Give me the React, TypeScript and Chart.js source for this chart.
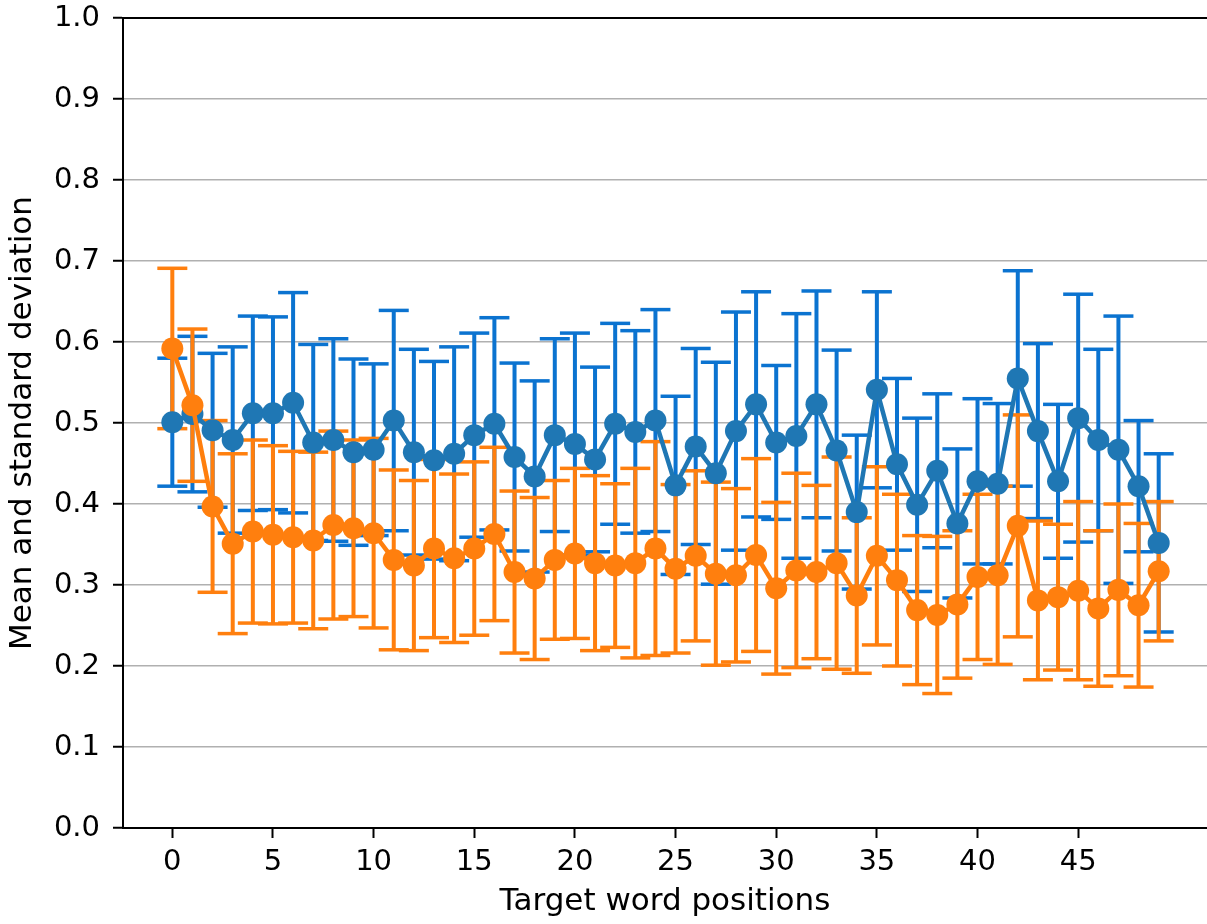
import React, { useEffect, useRef } from "react";
import { Chart, registerables } from "chart.js";

Chart.register(...registerables);

// ---- data ----
const positions = [
  0, 1, 2, 3, 4, 5, 6, 7, 8, 9,
  10, 11, 12, 13, 14, 15, 16, 17, 18, 19,
  20, 21, 22, 23, 24, 25, 26, 27, 28, 29,
  30, 31, 32, 33, 34, 35, 36, 37, 38, 39,
  40, 41, 42, 43, 44, 45, 46, 47, 48, 49,
];

const xTickValues = [0, 5, 10, 15, 20, 25, 30, 35, 40, 45];
const yTickValues = [0.0, 0.1, 0.2, 0.3, 0.4, 0.5, 0.6, 0.7, 0.8, 0.9, 1.0];

const blueMean = [
  0.501, 0.511, 0.491, 0.479, 0.512, 0.512, 0.525, 0.476, 0.479, 0.464,
  0.467, 0.503, 0.464, 0.454, 0.462, 0.485, 0.499, 0.458, 0.434, 0.485,
  0.474, 0.455, 0.499, 0.489, 0.503, 0.423, 0.471, 0.438, 0.490, 0.523,
  0.476, 0.484, 0.523, 0.466, 0.390, 0.541, 0.449, 0.399, 0.441, 0.376,
  0.428, 0.425, 0.555, 0.490, 0.428, 0.506, 0.479, 0.467, 0.422, 0.352,
];

const blueStd = [
  0.079, 0.096, 0.095, 0.115, 0.120, 0.119, 0.136, 0.121, 0.125, 0.115,
  0.106, 0.136, 0.127, 0.122, 0.132, 0.126, 0.131, 0.116, 0.118, 0.119,
  0.137, 0.114, 0.124, 0.125, 0.137, 0.110, 0.121, 0.137, 0.147, 0.139,
  0.095, 0.151, 0.140, 0.124, 0.095, 0.121, 0.106, 0.107, 0.095, 0.092,
  0.102, 0.099, 0.133, 0.108, 0.095, 0.153, 0.112, 0.165, 0.081, 0.110,
];

const orangeMean = [
  0.592, 0.522, 0.397, 0.351, 0.366, 0.362, 0.359, 0.355, 0.374, 0.370,
  0.364, 0.331, 0.324, 0.345, 0.333, 0.345, 0.363, 0.316, 0.308, 0.331,
  0.339, 0.327, 0.324, 0.327, 0.345, 0.320, 0.336, 0.314, 0.312, 0.337,
  0.296, 0.318, 0.316, 0.327, 0.287, 0.336, 0.306, 0.269, 0.263, 0.276,
  0.310, 0.312, 0.373, 0.281, 0.285, 0.293, 0.271, 0.294, 0.275, 0.317,
];

const orangeStd = [
  0.099, 0.094, 0.106, 0.111, 0.113, 0.110, 0.106, 0.109, 0.116, 0.109,
  0.117, 0.111, 0.105, 0.110, 0.104, 0.107, 0.107, 0.100, 0.100, 0.098,
  0.105, 0.108, 0.101, 0.117, 0.132, 0.104, 0.105, 0.113, 0.107, 0.119,
  0.106, 0.120, 0.107, 0.131, 0.096, 0.110, 0.106, 0.092, 0.097, 0.091,
  0.102, 0.110, 0.137, 0.098, 0.090, 0.110, 0.096, 0.106, 0.101, 0.086,
];

const xLabel = "Target word positions";
const yLabel = "Mean and standard deviation";

// ---- styles ----
const BLUE = "#1f77b4";
const BLUE_ERR = "#0b73d0";
const ORANGE = "#ff7f0e";
const FONT = "'DejaVu Sans', sans-serif";

function meanPoints(mean: number[]) {
  return positions.map((x, i) => ({ x, y: mean[i] }));
}
function barPoints(mean: number[], std: number[]) {
  return positions.flatMap((x, i) => [
    { x, y: mean[i] - std[i] },
    { x, y: mean[i] + std[i] },
    { x, y: null as any },
  ]);
}
function capPoints(mean: number[], std: number[]) {
  return positions.flatMap((x, i) => [
    { x, y: mean[i] - std[i] },
    { x, y: mean[i] + std[i] },
  ]);
}

const topSpine = {
  id: "topSpine",
  afterDatasetsDraw(chart: any) {
    const { ctx, chartArea } = chart;
    ctx.save();
    ctx.strokeStyle = "#000";
    ctx.lineWidth = 2;
    ctx.beginPath();
    ctx.moveTo(chartArea.left - 1, chartArea.top);
    ctx.lineTo(chartArea.right, chartArea.top);
    ctx.stroke();
    ctx.restore();
  },
};

function zeroPadding(scale: any) {
  scale.paddingTop = 0;
  scale.paddingBottom = 0;
  scale.paddingLeft = 0;
  scale.paddingRight = 0;
}

export default function App() {
  const canvasRef = useRef<HTMLCanvasElement | null>(null);

  useEffect(() => {
    if (!canvasRef.current) return;
    const lineDs = (label: string, mean: number[], color: string, order: number) => ({
      label,
      data: meanPoints(mean),
      borderColor: color,
      backgroundColor: color,
      borderWidth: 4.5,
      pointRadius: 11,
      pointBorderWidth: 0,
      pointBackgroundColor: color,
      tension: 0,
      order,
    });
    const barDs = (mean: number[], std: number[], color: string, order: number) => ({
      label: "bars",
      data: barPoints(mean, std),
      borderColor: color,
      borderWidth: 4,
      pointRadius: 0,
      spanGaps: false,
      tension: 0,
      order,
    });
    const capDs = (mean: number[], std: number[], color: string, order: number) => ({
      label: "caps",
      data: capPoints(mean, std),
      showLine: false,
      pointStyle: "line",
      pointRadius: 15,
      pointBorderWidth: 3.5,
      pointBorderColor: color,
      pointBackgroundColor: color,
      borderColor: color,
      order,
    });

    const chart = new Chart(canvasRef.current, {
      type: "line",
      data: {
        datasets: [
          lineDs("orange", orangeMean, ORANGE, 0),
          lineDs("blue", blueMean, BLUE, 1),
          capDs(orangeMean, orangeStd, ORANGE, 2),
          barDs(orangeMean, orangeStd, ORANGE, 3),
          capDs(blueMean, blueStd, BLUE_ERR, 4),
          barDs(blueMean, blueStd, BLUE_ERR, 5),
        ] as any,
      },
      options: {
        animation: false,
        responsive: false,
        devicePixelRatio: 1,
        layout: { autoPadding: false, padding: { top: 18, left: 0, right: 0, bottom: 0 } },
        plugins: {
          legend: { display: false },
          tooltip: { enabled: false },
        },
        scales: {
          x: {
            type: "linear",
            min: -2.45,
            max: 51.4,
            offset: false,
            afterBuildTicks: (scale: any) => {
              scale.ticks = xTickValues.map((v) => ({ value: v }));
            },
            afterFit: (scale: any) => {
              scale.height = 96;
              zeroPadding(scale);
            },
            ticks: {
              autoSkip: false,
              maxRotation: 0,
              padding: 7,
              color: "#000",
              font: { family: FONT, size: 29 },
              callback: (v: any) => String(v),
            },
            grid: {
              display: true,
              drawOnChartArea: false,
              drawTicks: true,
              tickLength: 10,
              tickColor: "#000",
              tickWidth: 2,
            },
            border: { display: true, color: "#000", width: 2 },
            title: {
              display: true,
              text: xLabel,
              color: "#000",
              font: { family: FONT, size: 31 },
              padding: { top: 0, bottom: 3 },
            },
          },
          y: {
            type: "linear",
            min: 0,
            max: 1,
            afterBuildTicks: (scale: any) => {
              scale.ticks = yTickValues.map((v) => ({ value: v }));
            },
            afterFit: (scale: any) => {
              scale.width = 123;
              zeroPadding(scale);
            },
            ticks: {
              padding: 13,
              color: "#000",
              font: { family: FONT, size: 29 },
              callback: (v: any) => Number(v).toFixed(1),
            },
            grid: {
              display: true,
              color: "#b0b0b0",
              lineWidth: 1.5,
              drawTicks: true,
              tickLength: 10,
              tickColor: "#000",
              tickWidth: 2,
            },
            border: { display: true, color: "#000", width: 2 },
            title: {
              display: true,
              text: yLabel,
              color: "#000",
              font: { family: FONT, size: 31 },
              padding: { top: 4, bottom: 0 },
            },
          },
        },
      } as any,
      plugins: [topSpine],
    });
    return () => chart.destroy();
  }, []);

  return (
    <div
      style={{
        position: "absolute",
        left: 0,
        top: 0,
        width: 1207,
        height: 924,
        background: "#fff",
      }}
    >
      <canvas
        ref={canvasRef}
        width={1207}
        height={924}
        style={{ display: "block", width: 1207, height: 924 }}
      />
    </div>
  );
}
